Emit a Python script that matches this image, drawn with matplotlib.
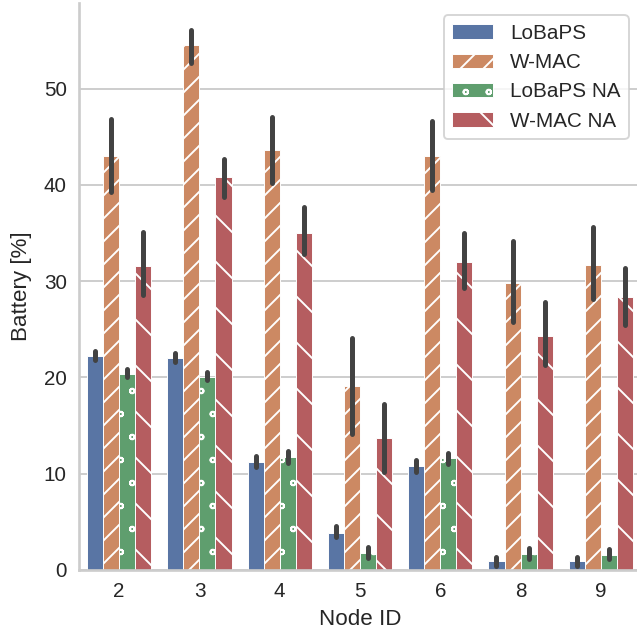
import numpy as np
import matplotlib
matplotlib.use("Agg")
import matplotlib.pyplot as plt
import matplotlib.hatch as mhatch
import seaborn as sns

# values (mean + CI ends)
nodes = ['2', '3', '4', '5', '6', '8', '9']
series = ['LoBaPS', 'W-MAC', 'LoBaPS NA', 'W-MAC NA']

lobaps = [22.2, 22.0, 11.2, 3.8, 10.8, 0.9, 0.9]
lobaps_lo = [21.8, 21.6, 10.7, 3.4, 10.2, 0.4, 0.4]
lobaps_hi = [22.7, 22.5, 11.8, 4.6, 11.4, 1.4, 1.3]

wmac = [43.0, 54.5, 43.6, 19.1, 43.0, 29.8, 31.7]
wmac_lo = [39.3, 52.7, 40.2, 14.1, 39.5, 25.8, 28.2]
wmac_hi = [46.9, 56.1, 47.1, 24.1, 46.6, 34.2, 35.6]

lobaps_na = [20.4, 20.1, 11.7, 1.8, 11.6, 1.7, 1.6]
lobaps_na_lo = [20.0, 19.7, 11.1, 1.2, 11.0, 1.1, 1.1]
lobaps_na_hi = [20.9, 20.6, 12.4, 2.4, 12.2, 2.3, 2.2]

wmac_na = [31.6, 40.8, 35.0, 13.7, 32.0, 24.3, 28.4]
wmac_na_lo = [28.6, 38.8, 32.8, 10.2, 29.3, 21.3, 25.5]
wmac_na_hi = [35.1, 42.7, 37.7, 17.2, 35.0, 27.8, 31.4]

means = [lobaps, wmac, lobaps_na, wmac_na]
lows = [lobaps_lo, wmac_lo, lobaps_na_lo, wmac_na_lo]
highs = [lobaps_hi, wmac_hi, lobaps_na_hi, wmac_na_hi]
hatches = ['', '////', 'oo', '\\\\']

sns.set_style("whitegrid")
plt.rcParams['font.family'] = ['Liberation Sans', 'DejaVu Sans']
plt.rcParams['hatch.linewidth'] = 0.5
plt.rcParams['hatch.color'] = 'white'


# smaller rings for the 'o' hatch, nudged sideways so they sit on the bar edges
class SmallRings(mhatch.SmallCircles):
    size = 0.1

    def set_vertices_and_codes(self, vertices, codes):
        super().set_vertices_and_codes(vertices, codes)
        vertices[:, 0] += 0.25 / self.num_rows


try:
    mhatch._hatch_types[mhatch._hatch_types.index(mhatch.SmallCircles)] = SmallRings
except (AttributeError, ValueError):
    mhatch.SmallCircles.size = 0.1

DPI = 276
fig = plt.figure(figsize=(637 / DPI, 637 / DPI), dpi=DPI)
ax = fig.add_axes([0.124, 0.1052, 0.8823, 0.890])

colors = [sns.desaturate(c, 0.75) for c in sns.color_palette("deep", 4)]
x = np.arange(len(nodes))
w = 0.2
for i, name in enumerate(series):
    pos = x - 0.3 + i * w
    ax.bar(pos, means[i], width=w, color=colors[i], edgecolor='white',
           linewidth=0.25, hatch=hatches[i], label=name, zorder=2)
    ax.vlines(pos, lows[i], highs[i], color='.26', linewidth=1.3,
              capstyle='round', zorder=3)

ax.set_xlim(-0.5, len(nodes) - 0.5)
ax.set_ylim(0, 58.9)
ax.set_yticks([0, 10, 20, 30, 40, 50])
ax.set_xticks(x)
ax.set_xticklabels(nodes)
ax.tick_params(labelsize=5.4, pad=3.2, length=0)
ax.set_xlabel("Node ID", fontsize=5.85, labelpad=2)
ax.set_ylabel("Battery [%]", fontsize=5.85, labelpad=3)

ax.grid(axis='x', visible=False)
ax.grid(axis='y', color='.8', linewidth=0.5)
ax.set_axisbelow(True)
for s in ['top', 'right']:
    ax.spines[s].set_visible(False)
for s in ['left', 'bottom']:
    ax.spines[s].set_color('.8')
    ax.spines[s].set_linewidth(0.7)

leg = ax.legend(loc='upper right', fontsize=5.4, frameon=True,
                borderaxespad=0.6)
leg.get_frame().set_edgecolor('.8')
leg.get_frame().set_linewidth(0.5)

fig.savefig("out.png", dpi=DPI)
